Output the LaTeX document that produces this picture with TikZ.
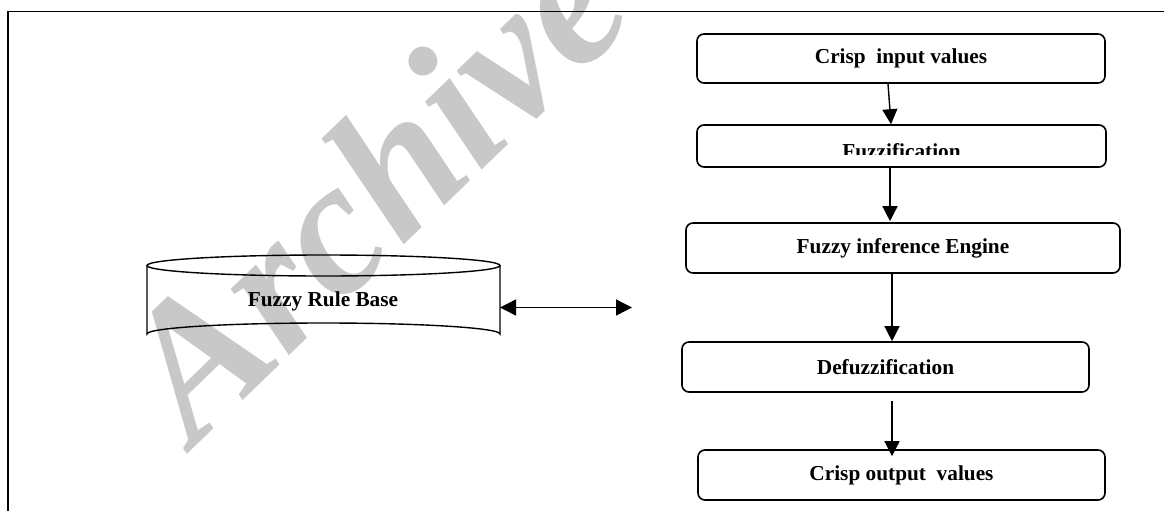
\documentclass[tikz,border=0pt]{standalone}
\usepackage{fontspec}
\setmainfont{Liberation Serif}
\usetikzlibrary{arrows.meta}
\definecolor{wmgray}{RGB}{200,200,200}
\tikzset{
  box/.style={draw, line width=1.6pt, rounded corners=7pt, inner sep=0pt},
  lbl/.style={font=\fontsize{21.3}{23}\selectfont\bfseries, inner sep=0pt},
  arr/.style={line width=1.4pt, -{Triangle[length=15pt,width=15pt]}},
  darr/.style={line width=1.4pt, {Triangle[length=16pt,width=16pt]}-{Triangle[length=16pt,width=16pt]}},
  cyl/.style={line width=1.4pt}
}
\begin{document}
\begin{tikzpicture}[x=1pt,y=-1pt]
\useasboundingbox (0,0) rectangle (1164,511);
% watermark
\node[anchor=base west, inner sep=0pt, rotate=44, text=wmgray,
      font=\fontsize{192}{200}\selectfont\bfseries\itshape] (wm) at (194,448) {Archive};
% frame
\coordinate (fbl) at (8,515);
\coordinate (ftl) at (8,11.5);
\coordinate (ftr) at (1168,11.5);
\draw[line width=1.8pt] (fbl) -- (ftl) -- (ftr);
% cylinder
\draw[cyl] (323.5,265.5) ellipse [x radius=176.5, y radius=10.5];
\draw[cyl] (147,265.5) -- (147,334) arc[start angle=180, end angle=360, x radius=176.5, y radius=11] -- (500,265.5);
\node[lbl] (frb) at (323,301) {Fuzzy Rule Base};
\coordinate (frbE) at (500,307.5);
\coordinate (frbR) at (632,307.5);
\draw[darr] (frbE) -- (frbR);
% boxes
\node[box, minimum width=408pt, minimum height=49pt] (inp) at (901,58.5) {};
\node[lbl] (inpt) at (inp) {Crisp\ \ input values};
\node[box, minimum width=409pt, minimum height=42pt] (fuzz) at (901.5,146) {};
\begin{scope}
\clip (697,125) rectangle (1106,154);
\node[lbl, anchor=base] (fuzzt) at (901.5,158) {Fuzzification};
\end{scope}
\node[box, minimum width=434pt, minimum height=50pt] (inf) at (903,248) {};
\node[lbl] (inft) at (inf) {Fuzzy inference Engine};
\node[box, minimum width=407pt, minimum height=50pt] (defz) at (885.5,367) {};
\node[lbl] (defzt) at (defz) {Defuzzification};
\node[box, minimum width=407pt, minimum height=50pt] (out) at (901.5,475) {};
\node[lbl] (outt) at (out) {Crisp output\ \ values};
% arrows
\draw[arr] ([xshift=-13pt]inp.south) -- ([xshift=-10.5pt]fuzz.north);
\draw[arr] ([xshift=-11.5pt]fuzz.south) -- ([xshift=-13pt,yshift=1pt]inf.north);
\draw[arr] ([xshift=-11pt]inf.south) -- ([xshift=6.5pt]defz.north);
\draw[arr] ([xshift=6.5pt,yshift=-8pt]defz.south) -- ([xshift=-9.5pt,yshift=-7pt]out.north);
\end{tikzpicture}
\end{document}
